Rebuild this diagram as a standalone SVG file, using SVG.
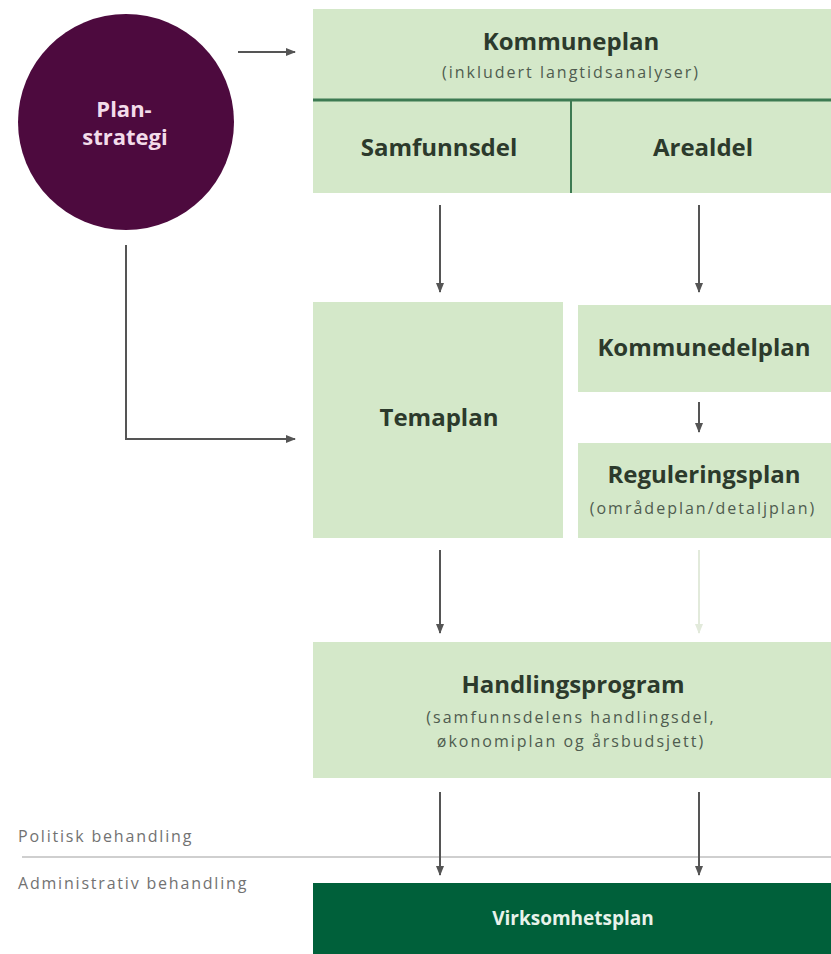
<svg xmlns="http://www.w3.org/2000/svg" width="831" height="954" viewBox="0 0 831 954">
<style>
.box{fill:#d4e8c9}
.t{font-family:"Open Sans",Lato,"Liberation Sans",sans-serif;font-weight:bold;fill:#2c3a2c;text-anchor:middle;font-size:24px}
.s{font-family:"Open Sans",Lato,"Liberation Sans",sans-serif;fill:#4f5c4f;text-anchor:middle;font-size:16px;letter-spacing:2px}
.lbl{font-family:"Open Sans",Lato,"Liberation Sans",sans-serif;fill:#727272;font-size:16px;letter-spacing:1.8px}
.c{fill:none;stroke:#555;stroke-width:2}
</style>
<defs>
<marker id="ah" viewBox="0 0 10 10" refX="9" refY="5" markerWidth="5" markerHeight="5" orient="auto" markerUnits="strokeWidth">
<path d="M0,1 L10,5 L0,9 z" fill="#555"/>
</marker>
<marker id="ahf" viewBox="0 0 10 10" refX="9" refY="5" markerWidth="5" markerHeight="5" orient="auto" markerUnits="strokeWidth">
<path d="M0,1 L10,5 L0,9 z" fill="#e2eadb"/>
</marker>
</defs>
<rect width="831" height="954" fill="#fff"/>

<g id="planstrategi">
<circle cx="126" cy="122" r="108" fill="#4d0a3e"/>
<text class="t" x="124" y="117" style="fill:#f3dcea;font-size:22px">Plan-</text>
<text class="t" x="125" y="145" style="fill:#f3dcea;font-size:22px">strategi</text>
</g>

<g id="kommuneplan">
<rect class="box" x="313" y="9" width="518" height="184"/>
<line x1="313" y1="100" x2="831" y2="100" stroke="#3d7a52" stroke-width="3"/>
<line x1="571" y1="100" x2="571" y2="193" stroke="#3d7a52" stroke-width="2"/>
<text class="t" x="571" y="50">Kommuneplan</text>
<text class="s" x="571" y="78">(inkludert langtidsanalyser)</text>
</g>
<g id="samfunnsdel"><text class="t" x="439" y="156">Samfunnsdel</text></g>
<g id="arealdel"><text class="t" x="703" y="156">Arealdel</text></g>

<g id="temaplan">
<rect class="box" x="313" y="302" width="250" height="236"/>
<text class="t" x="439" y="426">Temaplan</text>
</g>
<g id="kommunedelplan">
<rect class="box" x="578" y="305" width="253" height="87"/>
<text class="t" x="704" y="356">Kommunedelplan</text>
</g>
<g id="reguleringsplan">
<rect class="box" x="578" y="443" width="253" height="95"/>
<text class="t" x="704" y="483">Reguleringsplan</text>
<text class="s" x="703" y="514">(områdeplan/detaljplan)</text>
</g>
<g id="handlingsprogram">
<rect class="box" x="313" y="642" width="518" height="136"/>
<text class="t" x="573" y="693">Handlingsprogram</text>
<text class="s" x="571" y="723">(samfunnsdelens handlingsdel,</text>
<text class="s" x="571" y="747">økonomiplan og årsbudsjett)</text>
</g>
<g id="virksomhetsplan">
<rect x="313" y="883" width="518" height="71" fill="#00603a"/>
<text class="t" x="573" y="925" style="fill:#e8f2ea;font-size:19px">Virksomhetsplan</text>
</g>

<g id="labels">
<line x1="22" y1="857" x2="831" y2="857" stroke="#cfcfcf" stroke-width="2"/>
<text class="lbl" x="18" y="842">Politisk behandling</text>
<text class="lbl" x="18" y="889">Administrativ behandling</text>
</g>

<g id="connectors">
<line class="c" x1="238" y1="52" x2="295" y2="52" marker-end="url(#ah)"/>
<line class="c" x1="440" y1="205" x2="440" y2="292" marker-end="url(#ah)"/>
<line class="c" x1="699" y1="205" x2="699" y2="292" marker-end="url(#ah)"/>
<polyline class="c" points="126,245 126,439 295,439" marker-end="url(#ah)"/>
<line class="c" x1="699" y1="402" x2="699" y2="432" marker-end="url(#ah)"/>
<line class="c" x1="440" y1="550" x2="440" y2="633" marker-end="url(#ah)"/>
<line x1="699" y1="550" x2="699" y2="633" stroke="#e2eadb" stroke-width="2" marker-end="url(#ahf)"/>
<line class="c" x1="440" y1="792" x2="440" y2="875" marker-end="url(#ah)"/>
<line class="c" x1="699" y1="792" x2="699" y2="875" marker-end="url(#ah)"/>
</g>
</svg>
